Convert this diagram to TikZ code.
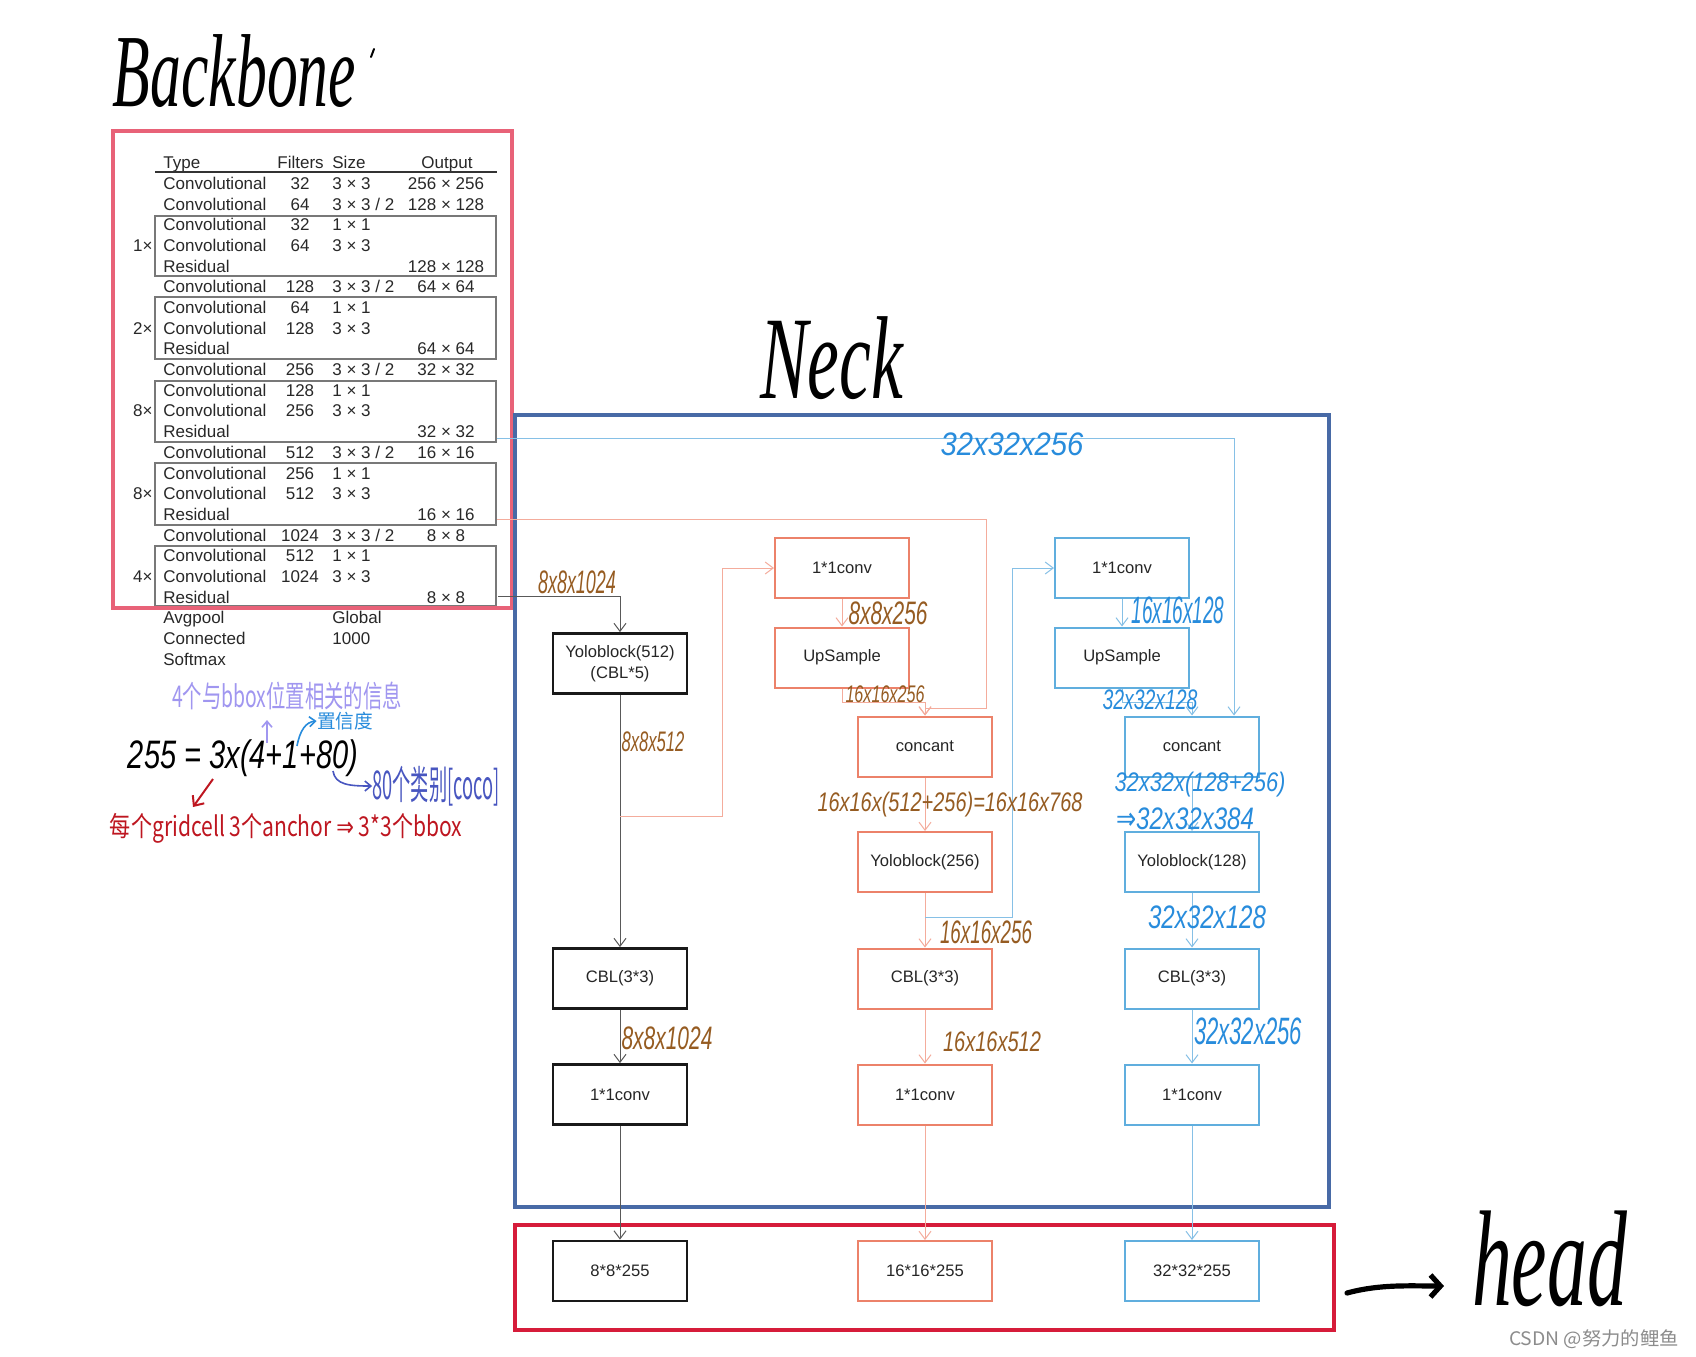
\documentclass[tikz,border=0pt]{standalone}
\usepackage{fontspec}
\setmainfont{Liberation Sans}
\newfontfamily\cjk{Noto Sans CJK SC}
\newfontfamily\djv{DejaVu Sans}
\newfontfamily\hwserif{Liberation Serif}
\usetikzlibrary{arrows.meta,calc}
\newlength\pxu \setlength\pxu{0.5pt}
\newcommand\fitt[3]{\resizebox*{#1\pxu}{#2\pxu}{#3}}
\definecolor{tabred}{RGB}{232,98,120}
\definecolor{neckblue}{RGB}{72,106,166}
\definecolor{headred}{RGB}{214,28,58}
\definecolor{salbox}{RGB}{236,130,106}
\definecolor{salline}{RGB}{244,172,156}
\definecolor{blubox}{RGB}{96,174,222}
\definecolor{bluline}{RGB}{134,192,230}
\definecolor{brownh}{RGB}{150,92,34}
\definecolor{blueh}{RGB}{40,140,220}
\definecolor{purph}{RGB}{160,150,240}
\definecolor{indigoh}{RGB}{72,86,192}
\definecolor{redh}{RGB}{190,22,32}
\definecolor{tabtxt}{RGB}{40,40,40}
\definecolor{grpline}{RGB}{120,120,120}
\newcommand\trow[5]{%
  \node[tt,anchor=base west] (r#1a) at (163,{183+(#1-1)*20.68+6.5}) {#2};
  \node[tt,anchor=base] (r#1b) at (300,{183+(#1-1)*20.68+6.5}) {#3};
  \node[tt,anchor=base west] (r#1c) at (332,{183+(#1-1)*20.68+6.5}) {#4};
  \node[tt,anchor=base] (r#1d) at (446,{183+(#1-1)*20.68+6.5}) {#5};
}
\newcommand\tmul[2]{%
  \node[tt,anchor=base east] (m#1) at (153,{183+(#1-1)*20.68+6.5}) {#2};
}
\begin{document}
\begin{tikzpicture}[x=0.5pt,y=-0.5pt,
  tt/.style={inner sep=0pt,text=tabtxt,font=\fontsize{8.5pt}{10pt}\selectfont},
  bx/.style={draw,line width=1pt,minimum width=67pt,minimum height=30pt,inner sep=1pt,align=center,font=\fontsize{8.3pt}{10.3pt}\selectfont,text=black!85},
  kbox/.style={bx,draw=black!90,line width=1.4pt},
  sbox/.style={bx,draw=salbox},
  bbox/.style={bx,draw=blubox},
  arr/.style={-{Straight Barb[length=4pt,width=6pt]},line width=0.5pt},
  kln/.style={arr,draw=black!65},
  sln/.style={arr,draw=salline},
  bln/.style={arr,draw=bluline},
  hw/.style={inner sep=0pt,font=\itshape},
  grp/.style={draw=grpline,line width=0.7pt},
]
\useasboundingbox (0,0) rectangle (1696,1356);
\fill[white] (0,0) rectangle (1696,1356);

% ---------------- Backbone table ----------------
\node[tt,anchor=base west] (hType) at (163,168.5) {Type};
\node[tt,anchor=base west] (hFil) at (277,168.5) {Filters};
\node[tt,anchor=base west] (hSize) at (332,168.5) {Size};
\node[tt,anchor=base] (hOut) at (447,168.5) {Output};
\draw[black!80,line width=0.7pt] (155,172) -- (497,172);

\trow{1}{Convolutional}{32}{3 × 3}{256 × 256}
\trow{2}{Convolutional}{64}{3 × 3 / 2}{128 × 128}
\trow{3}{Convolutional}{32}{1 × 1}{}
\trow{4}{Convolutional}{64}{3 × 3}{}
\trow{5}{Residual}{}{}{128 × 128}
\trow{6}{Convolutional}{128}{3 × 3 / 2}{64 × 64}
\trow{7}{Convolutional}{64}{1 × 1}{}
\trow{8}{Convolutional}{128}{3 × 3}{}
\trow{9}{Residual}{}{}{64 × 64}
\trow{10}{Convolutional}{256}{3 × 3 / 2}{32 × 32}
\trow{11}{Convolutional}{128}{1 × 1}{}
\trow{12}{Convolutional}{256}{3 × 3}{}
\trow{13}{Residual}{}{}{32 × 32}
\trow{14}{Convolutional}{512}{3 × 3 / 2}{16 × 16}
\trow{15}{Convolutional}{256}{1 × 1}{}
\trow{16}{Convolutional}{512}{3 × 3}{}
\trow{17}{Residual}{}{}{16 × 16}
\trow{18}{Convolutional}{1024}{3 × 3 / 2}{8 × 8}
\trow{19}{Convolutional}{512}{1 × 1}{}
\trow{20}{Convolutional}{1024}{3 × 3}{}
\trow{21}{Residual}{}{}{8 × 8}
\trow{22}{Avgpool}{}{Global}{}
\trow{23}{Connected}{}{1000}{}
\trow{24}{Softmax}{}{}{}
\tmul{4}{1×}
\tmul{8}{2×}
\tmul{12}{8×}
\tmul{16}{8×}
\tmul{20}{4×}

\draw[grp] (155,216) rectangle (496,276);
\draw[grp] (155,297) rectangle (496,359);
\draw[grp] (155,381) rectangle (496,442);
\draw[grp] (155,463) rectangle (496,525);
\draw[grp] (155,546) rectangle (496,606);

\draw[tabred,line width=2.2pt] (113,131) rectangle (512,608);

% ---------------- Titles ----------------
\node[hw] (tBack) at (234.5,71.5) {\fitt{243}{73}{\hwserif\itshape Backbone}};
\draw[black,line width=1pt,line cap=round] (374,49) -- (371,57);
\node[hw] (tNeck) at (831.5,358.5) {\fitt{143}{83}{\hwserif\itshape Neck}};
\node[hw] (tHead) at (1549.5,1259) {\fitt{155}{96}{\hwserif\itshape head}};
\coordinate (hA) at (1347,1293);
\coordinate (hB) at (1444,1286);
\draw[line width=2.6pt,line cap=round,-{Straight Barb[length=5pt,width=11pt]}] (hA) .. controls (1380,1284) and (1410,1286) .. (hB);

% ---------------- Frames ----------------
\draw[neckblue,line width=2.2pt] (515,415) rectangle (1329,1207);
\draw[headred,line width=2.4pt] (515,1225) rectangle (1334,1330);

% ---------------- Column 1 ----------------
\node[kbox] (y512) at (620,663.5) {Yoloblock(512)\\(CBL*5)};
\node[kbox] (cbl1) at (620,978.5) {CBL(3*3)};
\node[kbox] (cv1) at (620,1094.5) {1*1conv};
\node[kbox] (o1) at (620,1271) {8*8*255};

% ---------------- Column 2 ----------------
\node[sbox] (cv2a) at (842,568) {1*1conv};
\node[sbox] (up2) at (842,657.5) {UpSample};
\node[sbox] (cat2) at (925,746.5) {concant};
\node[sbox] (y256) at (925,862) {Yoloblock(256)};
\node[sbox] (cbl2) at (925,978.5) {CBL(3*3)};
\node[sbox] (cv2b) at (925,1094.5) {1*1conv};
\node[sbox] (o2) at (925,1271) {16*16*255};

% ---------------- Column 3 ----------------
\node[bbox] (cv3a) at (1122,568) {1*1conv};
\node[bbox] (up3) at (1122,657.5) {UpSample};
\node[bbox] (cat3) at (1192,746.5) {concant};
\node[bbox] (y128) at (1192,862) {Yoloblock(128)};
\node[bbox] (cbl3) at (1192,978.5) {CBL(3*3)};
\node[bbox] (cv3b) at (1192,1094.5) {1*1conv};
\node[bbox] (o3) at (1192,1271) {32*32*255};

% ---------------- Connectors ----------------
\coordinate (tb32) at (497,438);
\coordinate (tb16) at (497,519);
\coordinate (tb8) at (498,596);
\coordinate (s1) at (620,816);
\coordinate (b1) at (925,917);

\draw[kln] (tb8) -| (y512.north);
\draw[kln] (y512) -- (cbl1);
\draw[kln] (cbl1) -- (cv1);
\draw[kln] (cv1) -- (o1);

\draw[sln] (s1) -- ++(102,0) |- (cv2a.west);
\draw[sln] (cv2a) -- (up2);
\draw[sln] (up2.south) -- ++(0,14) -| (cat2.north);
\draw[sln] (tb16) -| ($(cat2.north)+(61,-7)$) -| (cat2.north);
\draw[sln] (cat2) -- (y256);
\draw[sln] (y256) -- (cbl2);
\draw[sln] (cbl2) -- (cv2b);
\draw[sln] (cv2b) -- (o2);

\draw[bln] (b1) -- ++(87,0) |- (cv3a.west);
\draw[bln] (cv3a) -- (up3);
\draw[bln] (up3.south) -- ++(0,14) -| (cat3.north);
\draw[bln] (tb32) -| ($(cat3.north east)+(-26,0)$);
\draw[bln] (cat3) -- (y128);
\draw[bln] (y128) -- (cbl3);
\draw[bln] (cbl3) -- (cv3b);
\draw[bln] (cv3b) -- (o3);

% ---------------- Handwritten size labels ----------------
\begin{scope}[every node/.style={hw,text=brownh}]
\node (lb1) at (577,582) {\fitt{78}{23}{8x8x1024}};
\node (lb2) at (888,613) {\fitt{79}{23}{8x8x256}};
\node (lb3) at (885,694) {\fitt{79}{17}{16x16x256}};
\node (lb4) at (653,742) {\fitt{63}{20}{8x8x512}};
\node (lb5) at (950,805) {\fitt{265}{25}{16x16x(512+256)=16x16x768}};
\node (lb6) at (986,932) {\fitt{92}{23}{16x16x256}};
\node (lb7) at (667,1038) {\fitt{91}{23}{8x8x1024}};
\node (lb8) at (992,1042) {\fitt{98}{20}{16x16x512}};
\end{scope}
\begin{scope}[every node/.style={hw,text=blueh}]
\node (lc1) at (1012,444) {\fitt{143}{23}{32x32x256}};
\node (lc2) at (1178,610) {\fitt{93}{27}{16x16x128}};
\node (lc3) at (1150,700) {\fitt{95}{20}{32x32x128}};
\node (lc4) at (1200,785) {\fitt{171}{25}{32x32x(128+256)}};
\node (lc5) at (1185,819) {\fitt{138}{22}{{\djv\upshape ⇒}32x32x384}};
\node (lc6) at (1207,917) {\fitt{118}{23}{32x32x128}};
\node (lc7) at (1248,1031) {\fitt{108}{27}{32x32x256}};
\end{scope}

% ---------------- Annotations ----------------
\node[hw,text=purph] (aPur) at (287,696) {\fitt{230}{28}{\cjk 4个与bbox位置相关的信息}};
\node[hw,text=blueh] (aConf) at (345,721) {\fitt{56}{18}{\cjk 置信度}};
\node[hw,text=black] (aEq) at (243,758) {\fitt{230}{37}{255 = 3x(4+1+80)}};
\node[hw,text=indigoh] (aCls) at (436,786) {\fitt{127}{40}{\cjk 80个类别[coco]}};
\node[hw,text=redh] (aRed) at (286,828) {\fitt{352}{30}{\cjk 每个gridcell 3个anchor {\djv ⇒} 3*3个bbox}};

\coordinate (pA) at (267,743);
\coordinate (pB) at (267,720);
\draw[purph,line width=0.8pt,-{Straight Barb[length=3pt,width=5pt]}] (pA) -- (pB);
\coordinate (cA) at (297,746);
\draw[blueh,line width=0.8pt,-{Straight Barb[length=3pt,width=5pt]}] (cA) .. controls (300,730) and (306,722) .. (aConf.west);
\coordinate (iA) at (333,771);
\draw[indigoh,line width=0.8pt,-{Straight Barb[length=3pt,width=5pt]}] (iA) .. controls (335,785) and (350,786) .. (aCls.west);
\coordinate (rA) at (213,779);
\coordinate (rB) at (193,807);
\draw[redh,line width=1pt,-{Straight Barb[length=4pt,width=7pt]}] (rA) -- (rB);

% ---------------- Watermark ----------------
\node[inner sep=0pt,text=black!45] (wm) at (1594,1339) {\fitt{170}{19}{\cjk CSDN @努力的鲤鱼}};
\end{tikzpicture}
\end{document}
